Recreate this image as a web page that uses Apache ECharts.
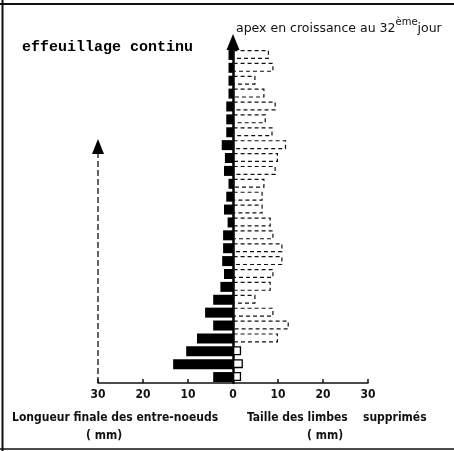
<!DOCTYPE html>
<html>
<head>
<meta charset="utf-8">
<script src="https://cdn.jsdelivr.net/npm/echarts@6/dist/echarts.min.js"></script>
<style>
  html, body { margin: 0; padding: 0; background: #fff; }
  #chart { width: 454px; height: 451px; }
</style>
</head>
<body>
<div id="chart"></div>
<script>
// noeuds, du bas (1) vers l'apex (26)
const noeuds = ['1','2','3','4','5','6','7','8','9','10','11','12','13','14','15','16','17','18','19','20','21','22','23','24','25','26'];
// longueur finale des entre-noeuds (mm)
const entreNoeuds = [4.4, 13.3, 10.4, 8, 4.4, 6.2, 4.4, 2.8, 2, 2.4, 2.2, 2.2, 1.2, 2, 1.5, 1, 2, 1.8, 2.5, 1.5, 1.5, 1.5, 1, 1, 1, 1];
// taille des limbes supprimés (mm)
const limbes = [1.8, 2.2, 1.8, 10, 12.4, 9, 5, 8.4, 9, 11, 11, 9, 8.4, 6.6, 6.6, 7, 9.5, 10, 11.8, 8.8, 7.3, 9.5, 7, 5, 9, 8];
// graduations
const graduations = [-30, -20, -10, 0, 10, 20, 30];

const FONT = '"DejaVu Sans Condensed", "DejaVu Sans", sans-serif';

const myChart = echarts.init(document.getElementById('chart'));

const option = {
    backgroundColor: '#fff',
    animation: false,
    grid: { left: 98, right: 86, top: 48, bottom: 68 },
    xAxis: {
        type: 'value',
        min: graduations[0],
        max: graduations[graduations.length - 1],
        interval: 10,
        axisLine: { show: true, lineStyle: { color: '#111', width: 1.5 } },
        axisTick: { show: true, inside: true, length: 4, lineStyle: { color: '#111', width: 1.5 } },
        splitLine: { show: false },
        axisLabel: {
            formatter: v => String(Math.abs(v)),
            color: '#111', fontSize: 12, fontWeight: 'bold', fontFamily: FONT, margin: 6
        }
    },
    yAxis: {
        type: 'category',
        data: noeuds,
        axisLabel: { show: false },
        axisTick: { show: false },
        axisLine: {
            show: true,
            onZero: true,
            symbol: ['none', 'triangle'],
            symbolSize: [13, 16],
            symbolOffset: [0, 6],
            lineStyle: { color: '#000', width: 2.5 }
        }
    },
    series: [
        {
            name: 'entre-noeuds',
            type: 'bar',
            barWidth: 10,
            barGap: '-100%',
            data: entreNoeuds.map(v => -v),
            itemStyle: { color: '#000' }
        },
        {
            name: 'limbes',
            type: 'bar',
            barWidth: 9,
            data: limbes.map((v, i) => ({
                value: v,
                itemStyle: i < 3
                    ? { color: '#fff', borderColor: '#000', borderWidth: 1.3, borderType: 'solid' }
                    : { color: 'rgba(255,255,255,0)', borderColor: '#111', borderWidth: 1.2, borderType: [4, 3] }
            }))
        }
    ]
};
myChart.setOption(option);

// décor : cadre, flèche en tirets, textes
const xg = myChart.convertToPixel({ xAxisIndex: 0 }, graduations[0]);
const yBas = 451 - 68;
myChart.setOption({
    graphic: [
        { type: 'line', shape: { x1: 2.5, y1: 0, x2: 2.5, y2: 451 }, style: { stroke: '#111', lineWidth: 2 } },
        { type: 'line', shape: { x1: 0, y1: 4, x2: 454, y2: 4 }, style: { stroke: '#111', lineWidth: 2 } },
        { type: 'line', shape: { x1: 0, y1: 449, x2: 454, y2: 449 }, style: { stroke: '#111', lineWidth: 1.5 } },
        { type: 'line', shape: { x1: xg, y1: yBas, x2: xg, y2: 152 }, style: { stroke: '#111', lineWidth: 1.3, lineDash: [6, 3] } },
        { type: 'polygon', shape: { points: [[xg, 139], [xg - 6, 154], [xg + 6, 154]] }, style: { fill: '#000' } },
        {
            type: 'text', left: 22, top: 40,
            style: { text: 'effeuillage continu', font: 'bold 15px "Liberation Mono", "DejaVu Sans Mono", monospace', fill: '#000' }
        },
        {
            type: 'text', left: 236, top: 17,
            style: {
                text: '{a|apex en croissance au 32}{s|ème}{a|jour}',
                rich: {
                    a: { font: '12.5px "DejaVu Sans", sans-serif', fill: '#111', verticalAlign: 'bottom', lineHeight: 18 },
                    s: { font: '10px "DejaVu Sans", sans-serif', fill: '#111', verticalAlign: 'top', lineHeight: 18, padding: [0, 0, 5, 0] }
                }
            }
        },
        {
            type: 'text', left: 12, top: 412,
            style: { text: 'Longueur finale des entre-noeuds', font: 'bold 12px ' + FONT, fill: '#111' }
        },
        {
            type: 'text', left: 86, top: 430,
            style: { text: '( mm)', font: 'bold 12px ' + FONT, fill: '#111' }
        },
        {
            type: 'text', left: 247, top: 412,
            style: { text: 'Taille des limbes', font: 'bold 12px ' + FONT, fill: '#111' }
        },
        {
            type: 'text', left: 363, top: 412,
            style: { text: 'supprimés', font: 'bold 12px ' + FONT, fill: '#111' }
        },
        {
            type: 'text', left: 307, top: 430,
            style: { text: '( mm)', font: 'bold 12px ' + FONT, fill: '#111' }
        }
    ]
});
</script>
</body>
</html>
